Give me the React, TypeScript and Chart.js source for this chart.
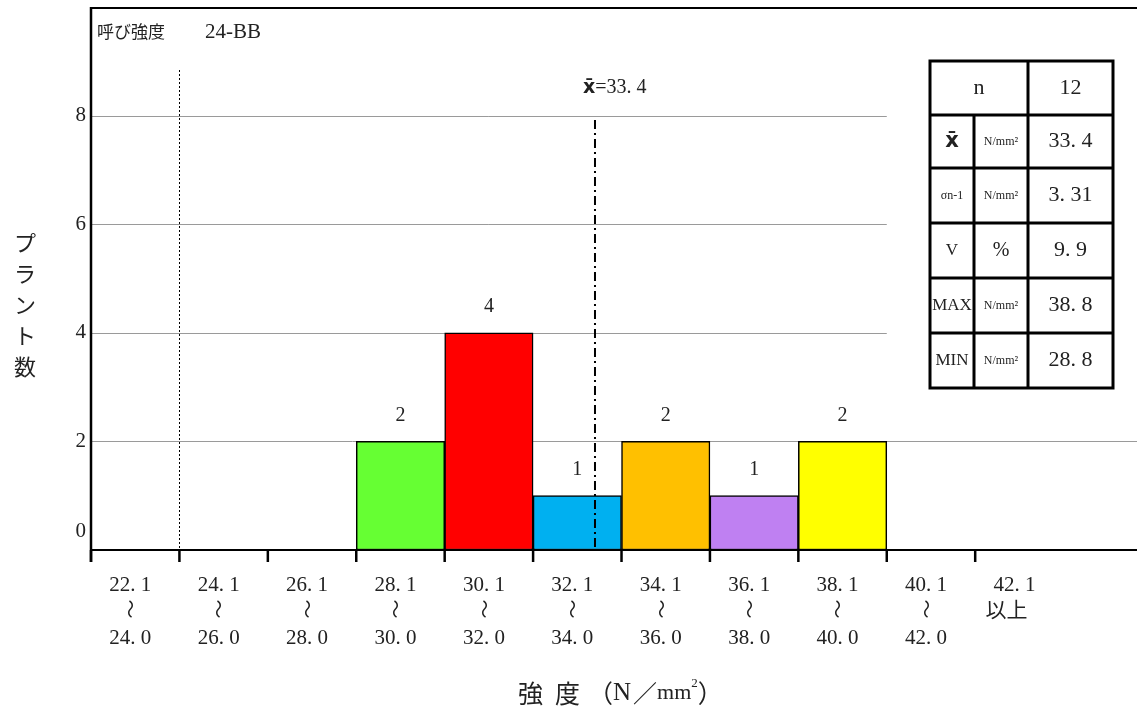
import React, { useEffect, useRef } from "react";
import { Chart, registerables } from "chart.js";

Chart.register(...registerables);

// ---- data ----
const binLowers = [22, 24, 26, 28, 30, 32, 34, 36, 38, 40, 42];
const binLabels: string[][] = [
  ["22.1", "〜", "24.0"],
  ["24.1", "〜", "26.0"],
  ["26.1", "〜", "28.0"],
  ["28.1", "〜", "30.0"],
  ["30.1", "〜", "32.0"],
  ["32.1", "〜", "34.0"],
  ["34.1", "〜", "36.0"],
  ["36.1", "〜", "38.0"],
  ["38.1", "〜", "40.0"],
  ["40.1", "〜", "42.0"],
  ["42.1", "以上"],
];
const plantCounts = [0, 0, 0, 2, 4, 1, 2, 1, 2, 0, 0];
const barColors = [
  "#ffffff", "#ffffff", "#ffffff",
  "#66FF33", "#FF0000", "#00B0F0", "#FFC000", "#BF80F2", "#FFFF00",
  "#ffffff", "#ffffff",
];
const yTicks = [0, 2, 4, 6, 8];
const meanValue = 33.4;
const meanLabel = "=33.4";
const nominalStrength = 24;
const headerJa = "呼び強度";
const headerCode = "24-BB";
const yTitle = "プラント数";
const sampleCountLabel = "n";
const sampleCount = "12";
const statLabels = ["x̄", "σn-1", "V", "MAX", "MIN"];
const statUnits = ["N/mm²", "N/mm²", "%", "N/mm²", "N/mm²"];
const statValues = ["33.4", "3.31", "9.9", "38.8", "28.8"];

const SERIF = "'Liberation Serif', 'DejaVu Serif', serif";
const CJK = "'Noto Sans CJK JP', sans-serif";
const INK = "#222";

const spaced = (s: string) => s.replace(".", ". ");

function drawPieces(ctx: CanvasRenderingContext2D, x: number, y: number, pieces: { t: string; f: string; dy?: number; gap?: number }[]) {
  ctx.save();
  ctx.textAlign = "left";
  ctx.textBaseline = "middle";
  let cx = x;
  for (const p of pieces) {
    cx += p.gap || 0;
    ctx.font = p.f;
    ctx.fillText(p.t, cx, y + (p.dy || 0));
    cx += ctx.measureText(p.t).width;
  }
  ctx.restore();
}

const customPlugin = {
  id: "customDraw",
  beforeDatasetsDraw(chart: any) {
    const { ctx, chartArea, scales } = chart;
    const xs = scales.x, ys = scales.y;
    const tableTop = 61, tableBottom = 388;
    ctx.save();
    ctx.strokeStyle = "#9a9a9a";
    ctx.lineWidth = 1;
    for (const v of yTicks) {
      if (v === 0) continue;
      const y = Math.round(ys.getPixelForValue(v)) + 0.5;
      const endX = y >= tableTop && y <= tableBottom ? xs.getPixelForValue(40) : chartArea.right;
      ctx.beginPath();
      ctx.moveTo(chartArea.left, y);
      ctx.lineTo(endX, y);
      ctx.stroke();
    }
    // nominal strength dotted line
    const nx = Math.round(xs.getPixelForValue(nominalStrength)) + 0.5;
    ctx.strokeStyle = "#000";
    ctx.setLineDash([2, 2]);
    ctx.beginPath();
    ctx.moveTo(nx, 70);
    ctx.lineTo(nx, chartArea.bottom);
    ctx.stroke();
    ctx.restore();
  },
  afterDatasetsDraw(chart: any) {
    const { ctx, chartArea, scales } = chart;
    const xs = scales.x, ys = scales.y;
    const left = chartArea.left, right = chartArea.right, top = chartArea.top, bottom = chartArea.bottom;
    ctx.save();

    // mean line
    const mx = xs.getPixelForValue(meanValue);
    ctx.strokeStyle = "#000";
    ctx.lineWidth = 2;
    ctx.setLineDash([9, 4, 2, 4]);
    ctx.beginPath();
    ctx.moveTo(mx, 120);
    ctx.lineTo(mx, bottom);
    ctx.stroke();
    ctx.setLineDash([]);

    // frame / axes
    ctx.lineWidth = 2;
    ctx.beginPath();
    ctx.moveTo(left, top + 1);
    ctx.lineTo(right, top + 1);
    ctx.stroke();
    ctx.beginPath();
    ctx.moveTo(left, bottom);
    ctx.lineTo(right, bottom);
    ctx.stroke();
    ctx.lineWidth = 2.5;
    ctx.beginPath();
    ctx.moveTo(left, top);
    ctx.lineTo(left, bottom + 12);
    ctx.stroke();
    for (const b of binLowers) {
      const x = xs.getPixelForValue(b);
      ctx.beginPath();
      ctx.moveTo(x, bottom);
      ctx.lineTo(x, bottom + 12);
      ctx.stroke();
    }

    // y tick labels
    ctx.fillStyle = INK;
    ctx.font = `21px ${SERIF}`;
    ctx.textAlign = "right";
    ctx.textBaseline = "middle";
    for (const v of yTicks) {
      const y = ys.getPixelForValue(v);
      ctx.fillText(String(v), left - 5, v === 0 ? y - 19 : y);
    }

    // x tick labels
    binLowers.forEach((b, i) => {
      const cx = xs.getPixelForValue(b + 1) - 5;
      const lines = binLabels[i];
      ctx.textAlign = "center";
      ctx.font = `21px ${SERIF}`;
      ctx.fillText(spaced(lines[0]), cx, 585);
      if (lines[1] === "〜") {
        ctx.save();
        ctx.translate(cx, 609);
        ctx.rotate(Math.PI / 2);
        ctx.font = `19px ${CJK}`;
        ctx.fillText(lines[1], 0, 0);
        ctx.restore();
        ctx.font = `21px ${SERIF}`;
        ctx.fillText(spaced(lines[2]), cx, 638);
      } else {
        ctx.font = `21px ${CJK}`;
        ctx.fillText(lines[1], cx - 8, 609);
      }
    });

    // bar value labels
    const meta = chart.getDatasetMeta(0);
    ctx.font = `20px ${SERIF}`;
    ctx.textAlign = "center";
    meta.data.forEach((el: any, i: number) => {
      if (!plantCounts[i]) return;
      ctx.fillText(String(plantCounts[i]), el.x, el.y - 26);
    });

    // mean label
    ctx.fillStyle = INK;
    drawPieces(ctx, mx - 12, 88, [
      { t: "x̄", f: `bold 19px 'DejaVu Sans', sans-serif` },
      { t: spaced(meanLabel), f: `20px ${SERIF}` },
    ]);

    // header
    drawPieces(ctx, 97, 32, [{ t: headerJa, f: `17px ${CJK}` }]);
    drawPieces(ctx, 205, 32, [{ t: headerCode, f: `21px ${SERIF}` }]);

    // y title (vertical)
    ctx.font = `22px ${CJK}`;
    ctx.textAlign = "center";
    ctx.textBaseline = "middle";
    Array.from(yTitle).forEach((ch, i) => {
      ctx.fillText(ch, 25, 243 + i * 31);
    });

    // x title
    drawPieces(ctx, 518, 693, [
      { t: "強", f: `25px ${CJK}` },
      { t: "度", f: `25px ${CJK}`, gap: 12 },
      { t: "（", f: `25px ${CJK}`, gap: 8 },
      { t: "N", f: `25px ${SERIF}` },
      { t: "／", f: `24px ${CJK}`, gap: 2 },
      { t: "mm", f: `22px ${SERIF}` },
      { t: "2", f: `13px ${SERIF}`, dy: -9 },
      { t: "）", f: `25px ${CJK}` },
    ]);

    // stats table
    const cols = [930, 974, 1028, 1113];
    const rows = [61, 115, 168, 223, 278, 333, 388];
    ctx.strokeStyle = "#000";
    ctx.lineWidth = 3;
    ctx.fillStyle = "#fff";
    ctx.fillRect(cols[0], rows[0], cols[3] - cols[0], rows[6] - rows[0]);
    ctx.strokeRect(cols[0], rows[0], cols[3] - cols[0], rows[6] - rows[0]);
    for (let r = 1; r < 6; r++) {
      ctx.beginPath();
      ctx.moveTo(cols[0], rows[r]);
      ctx.lineTo(cols[3], rows[r]);
      ctx.stroke();
    }
    ctx.beginPath();
    ctx.moveTo(cols[2], rows[0]);
    ctx.lineTo(cols[2], rows[6]);
    ctx.stroke();
    ctx.beginPath();
    ctx.moveTo(cols[1], rows[1]);
    ctx.lineTo(cols[1], rows[6]);
    ctx.stroke();

    ctx.fillStyle = INK;
    ctx.textAlign = "center";
    ctx.textBaseline = "middle";
    const r0c = (rows[0] + rows[1]) / 2;
    ctx.font = `22px ${SERIF}`;
    ctx.fillText(sampleCountLabel, (cols[0] + cols[2]) / 2, r0c);
    ctx.fillText(sampleCount, (cols[2] + cols[3]) / 2, r0c);
    statLabels.forEach((lab, i) => {
      const cy = (rows[i + 1] + rows[i + 2]) / 2;
      const lx = (cols[0] + cols[1]) / 2;
      if (i === 0) ctx.font = `bold 21px 'DejaVu Sans', sans-serif`;
      else if (i === 1) ctx.font = `12px ${SERIF}`;
      else ctx.font = `17px ${SERIF}`;
      ctx.fillText(lab, lx, cy);
      ctx.font = statUnits[i] === "%" ? `20px ${SERIF}` : `12px ${SERIF}`;
      ctx.fillText(statUnits[i], (cols[1] + cols[2]) / 2, cy);
      ctx.font = `22px ${SERIF}`;
      ctx.fillText(spaced(statValues[i]), (cols[2] + cols[3]) / 2, cy);
    });

    ctx.restore();
  },
};

export default function App() {
  const canvasRef = useRef<HTMLCanvasElement>(null);
  useEffect(() => {
    const canvas = canvasRef.current;
    if (!canvas) return;
    const chart = new Chart(canvas, {
      type: "bar",
      data: {
        datasets: [
          {
            data: binLowers.map((b, i) => ({ x: b + 1, y: plantCounts[i] ? plantCounts[i] : null })) as any,
            backgroundColor: barColors,
            borderColor: "#000",
            borderWidth: 1.5,
            borderSkipped: false,
            barPercentage: 1,
            categoryPercentage: 1,
          },
        ],
      },
      options: {
        animation: false,
        responsive: false,
        devicePixelRatio: 1,
        layout: { padding: { left: 91, top: 7, right: 0, bottom: 165 } },
        scales: {
          x: { type: "linear", min: 22, max: 45.66, offset: false, display: false },
          y: { type: "linear", min: 0, max: 10, display: false },
        },
        plugins: { legend: { display: false }, tooltip: { enabled: false } },
      },
      plugins: [customPlugin],
    });
    return () => chart.destroy();
  }, []);
  return (
    <div style={{ position: "fixed", left: 0, top: 0, width: 1137, height: 715, background: "#fff" }}>
      <canvas ref={canvasRef} width={1137} height={715} style={{ display: "block", width: 1137, height: 715 }} />
    </div>
  );
}
